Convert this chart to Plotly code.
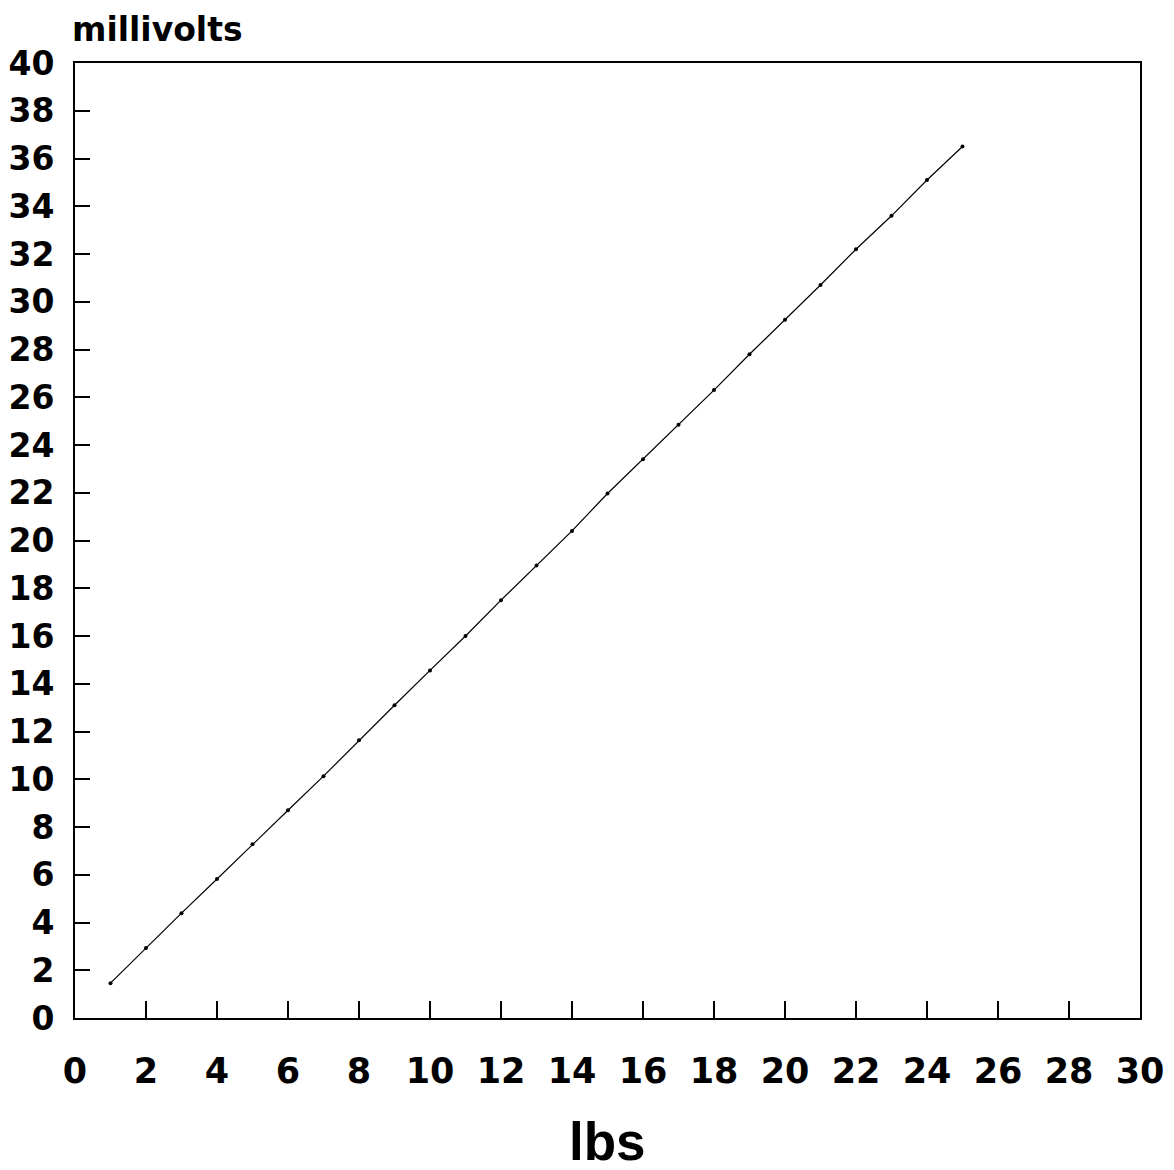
import plotly.graph_objects as go

lbs = list(range(1, 26))
millivolts = [1.46, 2.93, 4.39, 5.82, 7.28, 8.70, 10.13, 11.63, 13.10, 14.56,
              16.0, 17.5, 18.95, 20.4, 21.97, 23.4, 24.85, 26.3, 27.8, 29.25,
              30.7, 32.2, 33.6, 35.1, 36.5]
x_ticks = list(range(0, 31, 2))
y_ticks = list(range(0, 41, 2))

FONT = "DejaVu Sans"
FONT2 = "Liberation Sans"

fig = go.Figure()
fig.add_trace(go.Scatter(
    x=lbs, y=millivolts, mode="lines+markers",
    line=dict(color="black", width=1.2),
    marker=dict(color="black", size=4),
    showlegend=False,
))

axis_common = dict(
    showline=True, linecolor="black", linewidth=2, mirror=True,
    showgrid=False, zeroline=False, ticks="inside", tickcolor="black",
    tickwidth=2,
)

fig.update_xaxes(range=[0, 30], tickvals=x_ticks, ticklen=17,
                 ticklabelstandoff=21,
                 tickfont=dict(family=FONT, size=35, color="black", weight="bold"),
                 **axis_common)
fig.update_yaxes(range=[0, 40], tickvals=y_ticks, ticklen=15,
                 ticklabelstandoff=12,
                 tickfont=dict(family=FONT, size=33, color="black", weight="bold"),
                 **axis_common)

fig.add_annotation(text="millivolts", xref="paper", yref="paper",
                   x=0, y=1.0, xanchor="left", yanchor="bottom",
                   xshift=-5, yshift=12,
                   showarrow=False,
                   font=dict(family=FONT, size=33, color="black", weight="bold"))
fig.add_annotation(text="lbs", xref="paper", yref="paper",
                   x=0.5, y=0, xanchor="center", yanchor="top", yshift=-92,
                   showarrow=False,
                   font=dict(family=FONT2, size=53, color="black", weight="bold"))

fig.update_layout(
    width=1174, height=1170,
    margin=dict(l=67, r=42, t=55, b=160, autoexpand=False),
    plot_bgcolor="white", paper_bgcolor="white",
)

fig.write_html("out.html")
